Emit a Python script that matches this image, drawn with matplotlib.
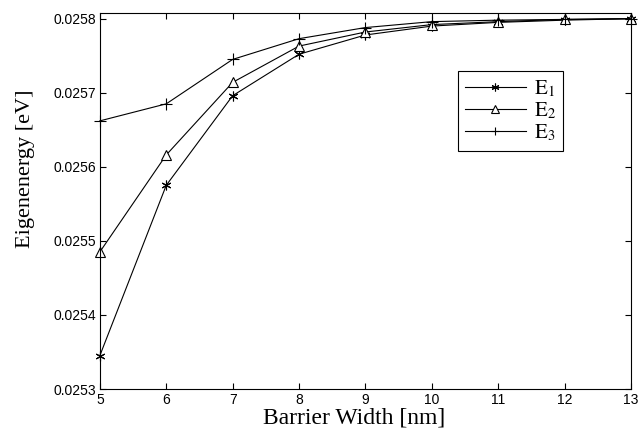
import numpy as np
import matplotlib.pyplot as plt

plt.rcParams['mathtext.fontset'] = 'stix'

width = [5, 6, 7, 8, 9, 10, 11, 12, 13]
e1 = [0.025345, 0.025575, 0.025696, 0.025752, 0.025778, 0.025790, 0.025795, 0.025798, 0.025800]
e2 = [0.025485, 0.025616, 0.025714, 0.025763, 0.025782, 0.025792, 0.025796, 0.025799, 0.025800]
e3 = [0.025662, 0.025685, 0.025745, 0.025773, 0.025788, 0.025796, 0.025798, 0.025799, 0.025800]
yticks = [0.0253, 0.0254, 0.0255, 0.0256, 0.0257, 0.0258]

fig = plt.figure(figsize=(6.44, 4.32), dpi=100)
ax = fig.add_axes([0.155, 0.0995, 0.825, 0.871])

asterisk = (6, 2, 0)
ax.plot(width, e1, color='black', lw=0.8, marker=asterisk, ms=7, mew=0.8,
        clip_on=False, label=r'$\mathrm{E}_1$')
ax.plot(width, e2, color='black', lw=0.8, marker='^', ms=7, mfc='white', mew=0.8,
        clip_on=False, label=r'$\mathrm{E}_2$')
ax.plot(width, e3, color='black', lw=0.8, marker='+', ms=8, mew=0.8,
        clip_on=False, label=r'$\mathrm{E}_3$')

ax.set_xlim(5, 13)
ax.set_ylim(0.0253, 0.025808)
ax.set_xticks(width)
ax.set_yticks(yticks)
ax.set_yticklabels(['%.4f' % v for v in yticks])
ax.tick_params(direction='in', top=True, right=True, length=4, width=0.8,
               labelsize=10, pad=3)
for lab in ax.get_xticklabels() + ax.get_yticklabels():
    lab.set_family('Liberation Sans')
for s in ax.spines.values():
    s.set_linewidth(0.8)

ax.set_xlabel('Barrier Width [nm]', family='Liberation Serif', fontsize=17)
ax.set_ylabel('Eigenenergy [eV]', family='Liberation Serif', fontsize=16)
ax.xaxis.set_label_coords(0.478, -0.05)
ax.yaxis.set_label_coords(-0.122, 0.585)

leg = ax.legend(loc='upper left', bbox_to_anchor=(0.674, 0.846), borderaxespad=0,
                fancybox=False, edgecolor='black', framealpha=1, fontsize=15,
                handlelength=2.9, handletextpad=0.4, borderpad=0.35,
                labelspacing=0.08, markerscale=0.8)
leg.get_frame().set_linewidth(0.8)

plt.savefig('out.png', dpi=100)
